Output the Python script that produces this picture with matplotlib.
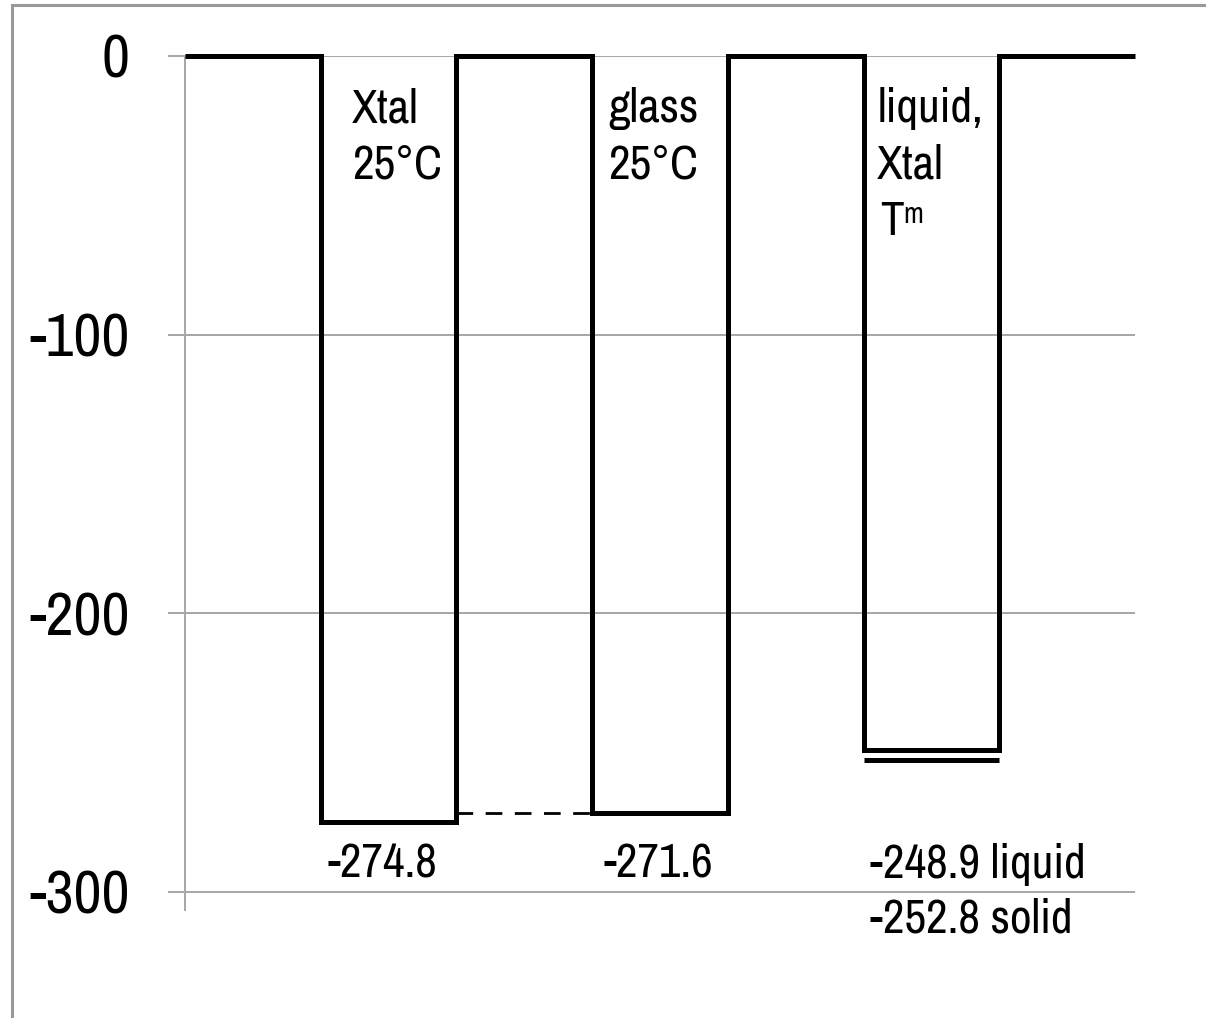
import matplotlib
matplotlib.use("Agg")
import matplotlib.pyplot as plt
from matplotlib.lines import Line2D
from matplotlib import font_manager

# free energy levels (kJ/mol) for each state
state_lines = [["Xtal", "25°C"], ["glass", "25°C"], ["liquid,", "Xtal"]]
levels = [-274.8, -271.6, -248.9]
solid_tm = -252.8
value_lines = [["-274.8"], ["-271.6"], ["-248.9 liquid", "-252.8 solid"]]
yticks = [0, -100, -200, -300]

# narrow sans-serif if one is installed
names = {f.name for f in font_manager.fontManager.ttflist}
family = next(f for f in ["Liberation Sans Narrow", "Archivo Narrow",
                          "PT Sans Narrow", "Liberation Sans"] if f in names)
plt.rcParams["font.family"] = [family, "DejaVu Sans"]

fig = plt.figure(figsize=(12.06, 10.18), dpi=100)
ax = fig.add_axes([185 / 1206, 1 - 910 / 1018, 950 / 1206, 854 / 1018])

# step profile: zero between wells, one well per state
edges = list(range(2 * len(levels) + 2))
values = []
for lv in levels:
    values += [0, lv]
values += [0]
ax.step(edges, values + [0], where="post", color="black", lw=3.6,
        solid_joinstyle="miter", solid_capstyle="butt", clip_on=False, zorder=3)

# glass vs crystal reference level
ax.plot([edges[2], edges[3]], [levels[1], levels[1]], color="black", lw=2,
        dashes=(6, 4.5), zorder=3)
# solid level at the melting point
ax.plot([edges[5], edges[6]], [solid_tm, solid_tm], color="black", lw=3.6,
        solid_capstyle="butt", zorder=3)

ax.set_xlim(0, edges[-1])
ax.set_ylim(-306.5, 0)
ax.set_xticks([])
ax.set_yticks(yticks)
ax.set_yticklabels([str(t) for t in yticks])
ax.tick_params(axis="y", length=12, width=1.4, color="#a6a6a6", pad=28,
               labelsize=44)
ax.grid(axis="y", color="#a6a6a6", lw=1.4)
for side in ["top", "right", "bottom"]:
    ax.spines[side].set_visible(False)
ax.spines["left"].set_color("#a6a6a6")
ax.spines["left"].set_linewidth(1.4)

line_step = 20.1  # data units between text lines
name_dx = [0.23, 0.12, 0.10]

# state names inside each well
for i, lines in enumerate(state_lines):
    x0 = edges[2 * i + 1] + name_dx[i]
    for j, s in enumerate(lines):
        ax.text(x0, -23.7 - j * line_step, s, fontsize=34, ha="left",
                va="baseline")
ax.text(edges[5] + 0.12, -64.2, "T", fontsize=34, ha="left", va="baseline")
ax.annotate("m", xy=(edges[5] + 0.12, -64.2), xytext=(16.5, 8.6),
            textcoords="offset points", fontsize=21, ha="left", va="baseline")

# energy values below each well
value_dx = [0.05, 0.08, 0.05]
for i, lines in enumerate(value_lines):
    x0 = edges[2 * i + 1] + value_dx[i]
    for j, s in enumerate(lines):
        ax.text(x0, -294.9 - j * 19.6, s, fontsize=34, ha="left",
                va="baseline", zorder=4,
                bbox=dict(facecolor="white", edgecolor="none", pad=1))

# outer frame (left and top edges only)
fig.add_artist(Line2D([12 / 1206, 12 / 1206], [0, 1 - 5 / 1018],
                      color="#999999", lw=2.2))
fig.add_artist(Line2D([12 / 1206, 1], [1 - 5 / 1018, 1 - 5 / 1018],
                      color="#999999", lw=2.2))

fig.savefig("out.png", dpi=100)
